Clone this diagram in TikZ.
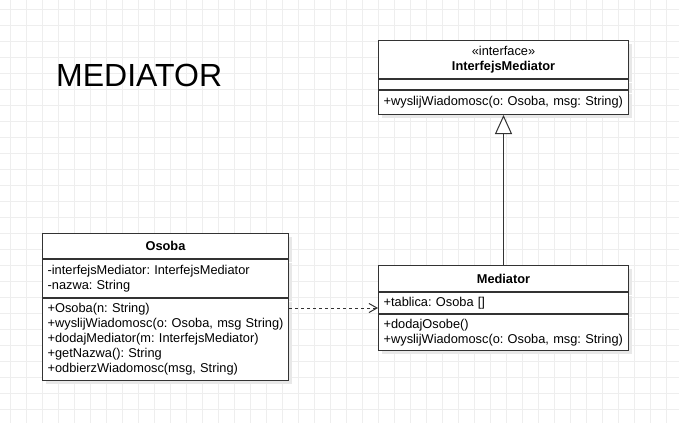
\documentclass[tikz,border=0pt]{standalone}
\usepackage{fontspec}
\setmainfont{Liberation Sans}
\usetikzlibrary{positioning,arrows.meta,shadows}
\definecolor{gridgray}{RGB}{238,238,238}
\definecolor{umlline}{RGB}{51,51,51}
\frenchspacing

\begin{document}
\begin{tikzpicture}[x=1pt,y=-1pt,
  every node/.style={font=\fontsize{12.8}{15}\selectfont},
  gridline/.style={gridgray,line width=1pt},
  umlpart/.style={draw=umlline,line width=1pt,fill=white,inner xsep=3pt,inner ysep=0pt,align=left,
    drop shadow={shadow xshift=3pt,shadow yshift=-3pt,fill=black!9,opacity=1}},
  umlhead/.style={umlpart,align=center}]
  \useasboundingbox (0,0) rectangle (679,423);
  \foreach \gx in {10,26,...,674} \draw[gridline] (\gx,0) -- (\gx,423);
  \foreach \gy in {9.5,25.5,...,423} \draw[gridline] (0,\gy) -- (679,\gy);
  \node[anchor=base west,inner sep=0pt,font=\fontsize{32}{32}\selectfont] (title) at (56,86.5) {MEDIATOR};
  % interface
  \node[umlhead,text width=244pt,minimum height=38pt,anchor=north west] (ifH) at (378,40) {«interface»\\\textbf{InterfejsMediator}};
  \node[umlpart,text width=244pt,minimum height=10pt,below=0pt of ifH] (ifA) {};
  \node[umlpart,text width=244pt,minimum height=24pt,below=0pt of ifA] (ifM) {\,+wyslijWiadomosc(o: Osoba, msg: String)};
  % Osoba
  \node[umlhead,text width=240pt,minimum height=25pt,anchor=north west] (osH) at (42,233) {\textbf{Osoba}};
  \node[umlpart,text width=240pt,minimum height=38pt,below=0pt of osH] (osA) {\,-interfejsMediator: InterfejsMediator\\\,-nazwa: String};
  \node[umlpart,text width=240pt,minimum height=82pt,below=0pt of osA] (osM) {\,+Osoba(n: String)\\\,+wyslijWiadomosc(o: Osoba, msg String)\\\,+dodajMediator(m: InterfejsMediator)\\\,+getNazwa(): String\\\,+odbierzWiadomosc(msg, String)};
  % Mediator
  \node[umlhead,text width=244pt,minimum height=26pt,anchor=north west] (medH) at (378,265) {\textbf{Mediator}};
  \node[umlpart,text width=244pt,minimum height=21pt,below=0pt of medH] (medA) {\,+tablica: Osoba []};
  \node[umlpart,text width=244pt,minimum height=36pt,below=0pt of medA] (medM) {\,+dodajOsobe()\\\,+wyslijWiadomosc(o: Osoba, msg: String)};
  \draw[umlline,line width=1pt,dash pattern=on 3pt off 3pt,-{Straight Barb[length=8pt,width=9pt]}]
    ([yshift=-10pt]osM.north east) -- ([yshift=-10pt]osM.north east -| medA.west);
  \draw[umlline,line width=1pt,-{Triangle[length=19pt,width=17pt,fill=white]}] (medH.north) -- (ifM.south);
\end{tikzpicture}
\end{document}
